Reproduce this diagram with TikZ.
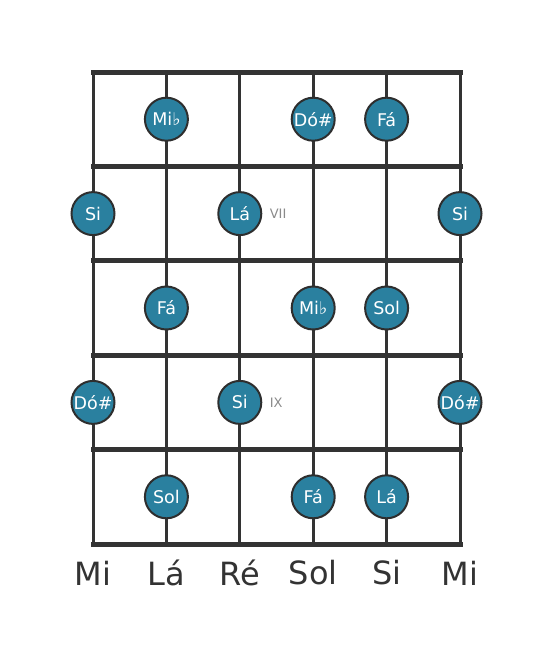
\documentclass[tikz,border=0pt]{standalone}
\usepackage{fontspec}
\setmainfont{DejaVu Sans}
\usepackage{xcolor}
\usetikzlibrary{calc}
\usetikzlibrary{positioning}

\definecolor{notefill}{HTML}{2A809F}
\definecolor{gridline}{HTML}{333333}
\definecolor{fretlabel}{HTML}{8A8A8A}

\begin{document}
\begin{tikzpicture}[x=1pt,y=-1pt]
% 1 unit = 1 pixel of the reference
    \def\XSTART{93}
    \def\XDELTA{73.4} %string spacing
    \def\YSTART{72}
    \def\YDELTA{94.4} %fret spacing
    \def\XEND{\XSTART+5*\XDELTA}
    \def\YEND{\YSTART+5*\YDELTA}

    \tikzset{
      note/.style={circle,draw=gridline!90!black,line width=2pt,
        fill=notefill,text=white,minimum size=43pt,inner sep=0pt,
        font=\fontsize{17.5}{17.5}\selectfont},
      fretno/.style={text=fretlabel,font=\fontsize{13}{13}\selectfont},
      strname/.style={text=gridline,font=\fontsize{32}{32}\selectfont},
      fret/.style={line width=5pt,color=gridline},
      string/.style={line width=3pt,color=gridline},
    }

    \useasboundingbox (0,0) rectangle (553,656);

    % STRINGS
    \foreach \s in {0,...,5}
        \draw[string] ({\XSTART+\s*\XDELTA},\YSTART) -- ({\XSTART+\s*\XDELTA},{\YEND});

    % FRETS
    \foreach \f in {0,...,5}
        \draw[fret,line cap=rect] (\XSTART,{\YSTART+\f*\YDELTA}) -- ({\XEND},{\YSTART+\f*\YDELTA});

    % NOTES (string : fret : name : label)
    \foreach \s/\f/\n/\l in {
        1/0/mia/Mi♭, 3/0/doa/Dó\#, 4/0/faa/Fá,
        0/1/sia/Si, 2/1/laa/Lá, 5/1/sib/Si,
        1/2/fab/Fá, 3/2/mib/Mi♭, 4/2/sola/Sol,
        0/3/dob/Dó\#, 2/3/sic/Si, 5/3/doc/Dó\#,
        1/4/solb/Sol, 3/4/fac/Fá, 4/4/lab/Lá}
        \node[note] (\n) at ({\XSTART+\s*\XDELTA},{\YSTART+(\f+0.5)*\YDELTA}) {\l};

    % FRET NUMBERS
    \node[fretno,right=4pt of laa] (vii) {VII};
    \node[fretno,right=4pt of sic] (ix) {IX};

    % OPEN STRING NAMES
    \foreach \s/\n/\l in {0/mi/Mi, 1/la/Lá, 2/re/Ré, 3/sol/Sol, 4/si/Si, 5/mii/Mi}
        \node[strname] (str-\n) at ({\XSTART+\s*\XDELTA},573) {\l};

\end{tikzpicture}
\end{document}
